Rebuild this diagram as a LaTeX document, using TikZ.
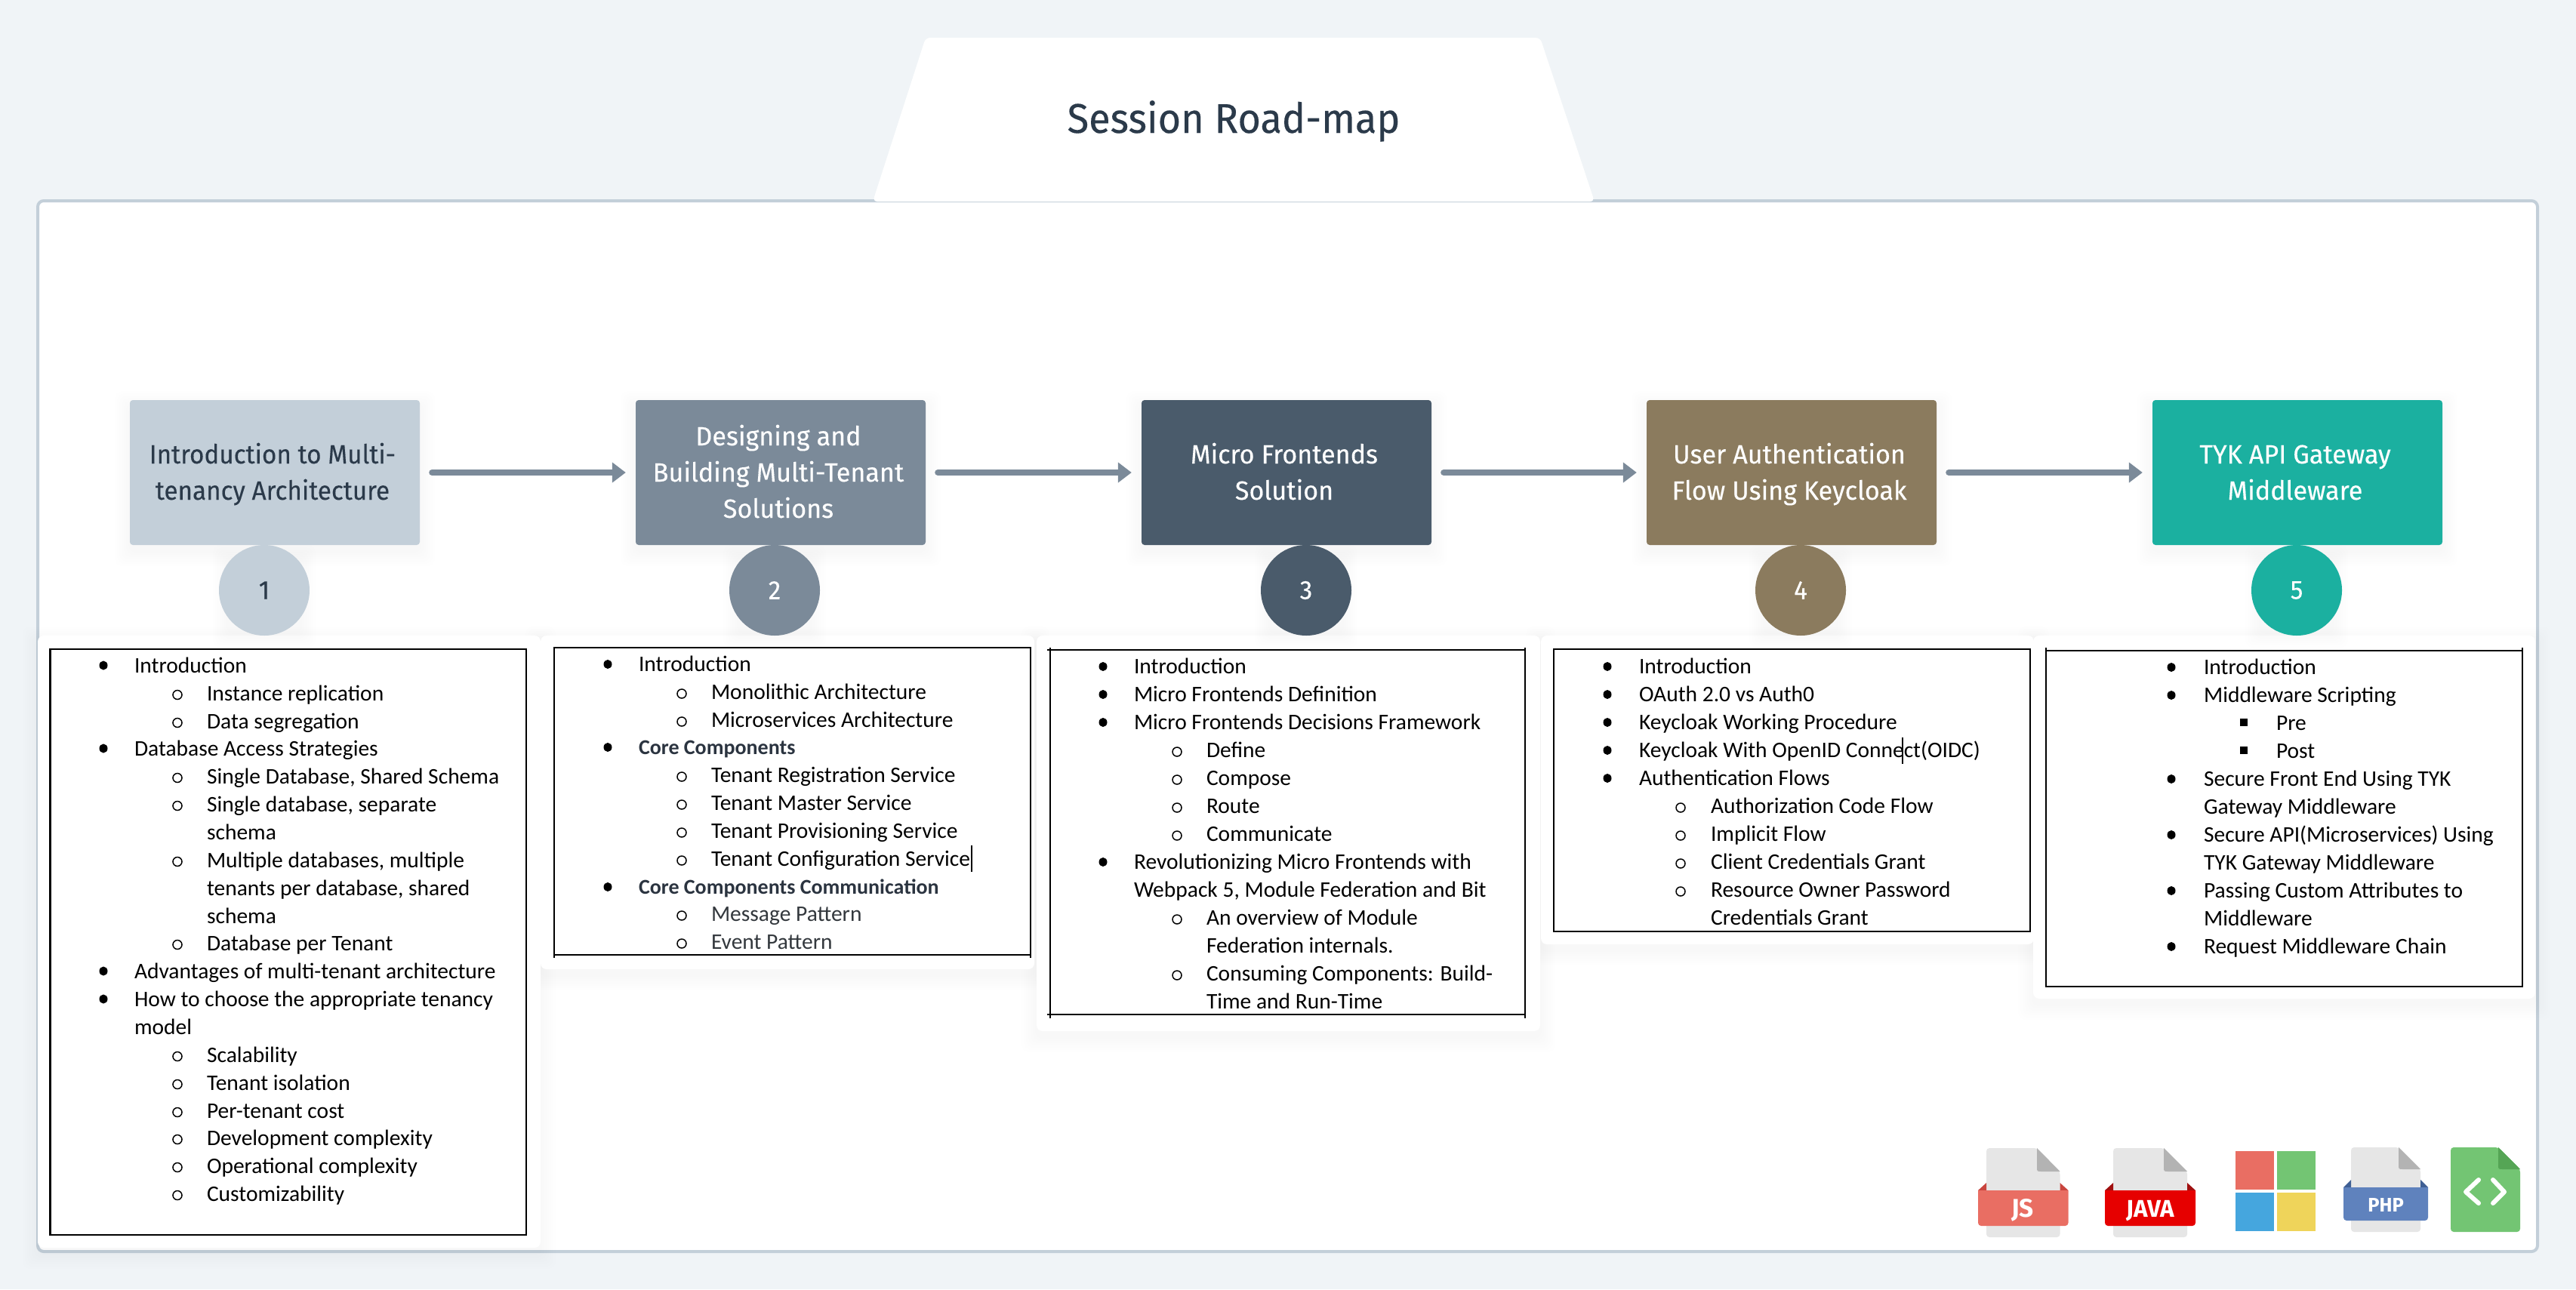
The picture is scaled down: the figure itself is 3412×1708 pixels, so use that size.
\documentclass[tikz,border=0pt]{standalone}
\usepackage{fontspec}
\setmainfont{Carlito}
\newfontfamily\dinfont[FakeStretch=0.95,FakeBold=0.25]{Fira Sans}
\newfontfamily\dinwide[FakeStretch=0.975,FakeBold=0.25]{Fira Sans}
\newfontfamily\iconfont[FakeStretch=0.98]{Fira Sans}
\usetikzlibrary{arrows.meta,shapes.geometric}
\definecolor{pagebg}{HTML}{F0F4F7}
\definecolor{panelline}{HTML}{C3CFD9}
\definecolor{inkdark}{HTML}{2B3A4A}
\definecolor{inkhead}{HTML}{2B3440}
\definecolor{inkgray}{HTML}{33383D}
\definecolor{cA}{HTML}{C3CFD9}
\definecolor{cB}{HTML}{7B8A99}
\definecolor{cC}{HTML}{4A5B6B}
\definecolor{cD}{HTML}{8B7B5E}
\definecolor{cE}{HTML}{1BB0A0}
\definecolor{redI}{HTML}{E96E63}
\definecolor{redF}{HTML}{C9453E}
\definecolor{javaI}{HTML}{E60000}
\definecolor{javaF}{HTML}{A01010}
\definecolor{phpI}{HTML}{5F82BD}
\definecolor{phpF}{HTML}{3F5F94}
\definecolor{grnI}{HTML}{73C573}
\definecolor{grnF}{HTML}{55A555}
\definecolor{bluI}{HTML}{45A6DE}
\definecolor{yelI}{HTML}{EFD45A}
\definecolor{docI}{HTML}{E6E6E6}
\definecolor{docF}{HTML}{B3B3B3}
\newcounter{ln}
\newcommand{\softshadow}[5]{% x1 y1 x2 y2 opacity
  \foreach \s in {2,5,...,20}{\fill[black,opacity=#5,rounded corners=10pt] (#1-\s,#2-\s+8) rectangle (#3+\s,#4+\s+8);}}
\newcommand{\txt}[4][black]{\stepcounter{ln}\node[line,text=#1] (L\arabic{ln}) at (#2,#3) {#4};}
\newcommand{\bul}[2]{\fill (#1,#2-9.5) ellipse (5.5 and 6);}
\newcommand{\sbul}[2]{\draw[line width=1.5pt] (#1,#2-7.5) circle (6);}
\newcommand{\sq}[2]{\fill (#1-5,#2-15.5) rectangle (#1+5,#2-5.5);}
\newcommand{\sst}{\rule[-12pt]{0pt}{48pt}}
\newcommand{\boldline}{\fontsize{28}{34}\selectfont\bfseries}
% bx1 bx2 top bot foldx foldy overhang bandtop bandbot; colours from bandc, flapc
\newcommand{\docicon}[9]{%
  \fill[docI,rounded corners=4pt] (#1,#3) -- (#5,#3) -- (#2,#6) -- (#2,#4) -- (#1,#4) -- cycle;
  \fill[docF] (#5,#3) -- (#2,#6) -- (#5+6,#6) .. controls (#5,#6) .. (#5,#6-6) -- cycle;
  \fill[flapc] (#1-#7,#8) -- (#1,#8-10) -- (#1,#8) -- cycle;
  \fill[flapc] (#2+#7,#8) -- (#2,#8-10) -- (#2,#8) -- cycle;
  \fill[bandc] (#1-#7,#8) [sharp corners] -- (#2+#7,#8) [rounded corners=4pt] -- (#2+#7,#9) -- (#1-#7,#9) [sharp corners] -- cycle;
}
\tikzset{
  x=1pt,y=-1pt,
  line/.style={anchor=base west,inner sep=0pt,outer sep=0pt,font=\fontsize{29.5}{34}\selectfont},
  stage/.style={rectangle,rounded corners=4pt,minimum width=384pt,minimum height=192pt,inner sep=0pt},
  stagetext/.style={align=center,inner sep=0pt,xshift=-3pt,font=\dinwide\fontsize{35}{48}\selectfont},
  numdot/.style={circle,minimum size=120pt,inner sep=0pt,font=\dinfont\fontsize{35}{40}\selectfont},
  flow/.style={line width=8pt,color=cB,line cap=round,-{Triangle[length=18pt,width=26pt]},shorten <=16pt,shorten >=13pt},
  card/.style={fill=white,rounded corners=8pt},
  listbox/.style={draw=black,line width=2.5pt},
  tick/.style={draw=black,line width=2pt},
  icontext/.style={anchor=base,inner sep=0pt,text=white},
  chev/.style={draw=white,line width=6pt,line cap=round,line join=round},
}
\begin{document}
\begin{tikzpicture}
\useasboundingbox (0,0) rectangle (3412,1708);
\fill[pagebg] (0,0) rectangle (3412,1708);
% panel
\fill[white,draw=panelline,line width=4pt,rounded corners=8pt] (50,266) rectangle (3361,1658);
% trapezoid
\fill[white,rounded corners=6pt] (1226,50) -- (2040,50) -- (2112,267) -- (1156,267) -- cycle;
\node[font=\dinfont\fontsize{55}{60}\selectfont,text=inkdark,anchor=base] (title) at (1634,176) {Session Road-map};
% stages
\foreach \x in {172,842,1512,2181,2851}{\softshadow{\x}{530}{\x+384}{722}{0.005}}
\node[stage,fill=cA,label={[stagetext,text=inkdark,font=\dinfont\fontsize{35}{48}\selectfont]center:{\sst Introduction to Multi-\\tenancy Architecture\sst}}] (b1) at (364,626) {};
\node[stage,fill=cB,label={[stagetext,text=white]center:{\sst Designing and\\Building Multi-Tenant\\Solutions\sst}}] (b2) at (1034,626) {};
\node[stage,fill=cC,label={[stagetext,text=white]center:{\sst Micro Frontends\\Solution\sst}}] (b3) at (1704,626) {};
\node[stage,fill=cD,label={[stagetext,text=white]center:{\sst User Authentication\\Flow Using Keycloak\sst}}] (b4) at (2373,626) {};
\node[stage,fill=cE,label={[stagetext,text=white]center:{\sst TYK API Gateway\\Middleware\sst}}] (b5) at (3043,626) {};
\draw[flow] (b1) -- (b2);
\draw[flow] (b2) -- (b3);
\draw[flow] (b3) -- (b4);
\draw[flow] (b4) -- (b5);
% cards
\softshadow{50}{842}{716}{1653}{0.003}
\softshadow{716}{842}{1370}{1284}{0.003}
\softshadow{1373}{842}{2040}{1366}{0.003}
\softshadow{2041}{842}{2694}{1251}{0.003}
\softshadow{2693}{842}{3358}{1323}{0.003}
\fill[card] (50,842) rectangle (716,1653);
\fill[card] (716,842) rectangle (1370,1284);
\fill[card] (1373,842) rectangle (2040,1366);
\fill[card] (2041,842) rectangle (2694,1251);
\fill[card] (2693,842) rectangle (3358,1323);
\draw[listbox] (66.5,860) rectangle (697,1636);
\draw[listbox] (734,858) rectangle (1365,1265);
\draw[listbox] (1391,861) rectangle (2020,1344);
\draw[listbox] (2058,860) rectangle (2689,1234);
\draw[listbox] (2710,862) rectangle (3341,1307);
% corner ticks
\draw[tick] (734,1265) -- (734,1269) (1365,1265) -- (1365,1269);
\draw[tick] (1391,861) -- (1391,858) (2020,861) -- (2020,858) (1391,861) -- (1387,861) (1391,1344) -- (1387,1344) (1391,1344) -- (1391,1349) (2020,1344) -- (2020,1349);
\draw[tick] (2710,862) -- (2710,858) (3341,862) -- (3341,858);
% number circles
\foreach \x in {350,1026,1730,2385,3042}{\softshadow{\x-48}{782-48}{\x+48}{782+48}{0.003}}
\node[numdot,fill=cA,text=inkdark] (n1) at (350,782) {1};
\node[numdot,fill=cB,text=white] (n2) at (1026,782) {2};
\node[numdot,fill=cC,text=white] (n3) at (1730,782) {3};
\node[numdot,fill=cD,text=white] (n4) at (2385,782) {4};
\node[numdot,fill=cE,text=white] (n5) at (3042,782) {5};
% list 1
\bul{137}{891}\txt{178}{891}{Introduction}
\sbul{235}{928}\txt{274}{928}{Instance replication}
\sbul{235}{965}\txt{274}{965}{Data segregation}
\bul{137}{1001}\txt{178}{1001}{Database Access Strategies}
\sbul{235}{1038}\txt{274}{1038}{Single Database, Shared Schema}
\sbul{235}{1075}\txt{274}{1075}{Single database, separate}
\txt{274}{1112}{schema}
\sbul{235}{1149}\txt{274}{1149}{Multiple databases, multiple}
\txt{274}{1186}{tenants per database, shared}
\txt{274}{1223}{schema}
\sbul{235}{1259}\txt{274}{1259}{Database per Tenant}
\bul{137}{1296}\txt{178}{1296}{Advantages of multi-tenant architecture}
\bul{137}{1333}\txt{178}{1333}{How to choose the appropriate tenancy}
\txt{178}{1370}{model}
\sbul{235}{1407}\txt{274}{1407}{Scalability}
\sbul{235}{1444}\txt{274}{1444}{Tenant isolation}
\sbul{235}{1481}\txt{274}{1481}{Per-tenant cost}
\sbul{235}{1517}\txt{274}{1517}{Development complexity}
\sbul{235}{1554}\txt{274}{1554}{Operational complexity}
\sbul{235}{1591}\txt{274}{1591}{Customizability}
\begin{scope}[yshift=-1.5pt]
% list 2
\bul{805}{888}\txt{846}{888}{Introduction}
\sbul{903}{925}\txt{942}{925}{Monolithic Architecture}
\sbul{903}{962}\txt{942}{962}{Microservices Architecture}
\bul{805}{998}\txt[inkhead]{846}{998}{\boldline Core Components}
\sbul{903}{1035}\txt{942}{1035}{Tenant Registration Service}
\sbul{903}{1072}\txt{942}{1072}{Tenant Master Service}
\sbul{903}{1109}\txt{942}{1109}{Tenant Provisioning Service}
\sbul{903}{1146}\txt{942}{1146}{Tenant Configuration Service}
\draw[line width=1.5pt] (1287,1118) -- (1287,1153);
\bul{805}{1183}\txt[inkhead]{846}{1183}{\boldline Core Components Communication}
\sbul{903}{1219}\txt[inkgray]{942}{1219}{Message Pattern}
\sbul{903}{1256}\txt[inkgray]{942}{1256}{Event Pattern}
% list 3
\bul{1461}{891}\txt{1502}{891}{Introduction}
\bul{1461}{928}\txt{1502}{928}{Micro Frontends Definition}
\bul{1461}{965}\txt{1502}{965}{Micro Frontends Decisions Framework}
\sbul{1559}{1002}\txt{1598}{1002}{Define}
\sbul{1559}{1039}\txt{1598}{1039}{Compose}
\sbul{1559}{1076}\txt{1598}{1076}{Route}
\sbul{1559}{1113}\txt{1598}{1113}{Communicate}
\bul{1461}{1150}\txt{1502}{1150}{Revolutionizing Micro Frontends with}
\txt{1502}{1187}{Webpack 5, Module Federation and Bit}
\sbul{1559}{1224}\txt{1598}{1224}{An overview of Module}
\txt{1598}{1261}{Federation internals.}
\sbul{1559}{1298}\txt{1598}{1298}{Consuming Components: Build-}
\txt{1598}{1335}{Time and Run-Time}
% list 4
\bul{2129}{891}\txt{2171}{891}{Introduction}
\bul{2129}{928}\txt{2171}{928}{OAuth 2.0 vs Auth0}
\bul{2129}{965}\txt{2171}{965}{Keycloak Working Procedure}
\bul{2129}{1002}\txt{2171}{1002}{Keycloak With OpenID Connect(OIDC)}
\draw[line width=1.5pt] (2520,975) -- (2520,1010);
\bul{2129}{1039}\txt{2171}{1039}{Authentication Flows}
\sbul{2226}{1076}\txt{2266}{1076}{Authorization Code Flow}
\sbul{2226}{1113}\txt{2266}{1113}{Implicit Flow}
\sbul{2226}{1150}\txt{2266}{1150}{Client Credentials Grant}
\sbul{2226}{1187}\txt{2266}{1187}{Resource Owner Password}
\txt{2266}{1224}{Credentials Grant}
% list 5
\bul{2876}{892}\txt{2919}{892}{Introduction}
\bul{2876}{929}\txt{2919}{929}{Middleware Scripting}
\sq{2972}{966}\txt{3015}{966}{Pre}
\sq{2972}{1003}\txt{3015}{1003}{Post}
\bul{2876}{1040}\txt{2919}{1040}{Secure Front End Using TYK}
\txt{2919}{1077}{Gateway Middleware}
\bul{2876}{1114}\txt{2919}{1114}{Secure API(Microservices) Using}
\txt{2919}{1151}{TYK Gateway Middleware}
\bul{2876}{1188}\txt{2919}{1188}{Passing Custom Attributes to}
\txt{2919}{1225}{Middleware}
\bul{2876}{1262}\txt{2919}{1262}{Request Middleware Chain}
\end{scope}
% icons
\colorlet{bandc}{redI}\colorlet{flapc}{redF}
\docicon{2631}{2728.5}{1521}{1639}{2698}{1552}{11}{1577}{1624}
\node[icontext,font=\iconfont\bfseries\fontsize{34}{40}\selectfont] (jsl) at (2679,1612) {JS};
\colorlet{bandc}{javaI}\colorlet{flapc}{javaF}
\docicon{2799}{2897}{1521}{1639}{2866}{1552}{11}{1577}{1624}
\node[icontext,font=\iconfont\bfseries\fontsize{32}{40}\selectfont] (javal) at (2848,1612) {JAVA};
\fill[redI] (2961,1525) rectangle (3012,1576);
\fill[grnI] (3016,1525) rectangle (3067,1576);
\fill[bluI] (2961,1580) rectangle (3012,1631);
\fill[yelI] (3016,1580) rectangle (3067,1631);
\colorlet{bandc}{phpI}\colorlet{flapc}{phpF}
\docicon{3114}{3206}{1520}{1632}{3177}{1549}{10}{1573}{1617}
\node[icontext,font=\iconfont\bfseries\fontsize{26}{36}\selectfont] (phpl) at (3160,1605) {PHP};
\fill[grnI,rounded corners=4pt] (3246,1520) -- (3309,1520) -- (3338,1549) -- (3338,1632) -- (3246,1632) -- cycle;
\fill[grnF] (3309,1520) -- (3338,1549) -- (3315,1549) .. controls (3309,1549) .. (3309,1543) -- cycle;
\draw[chev] (3283,1563) -- (3266,1579) -- (3283,1594);
\draw[chev] (3302,1563) -- (3317,1579) -- (3302,1594);
\end{tikzpicture}
\end{document}
